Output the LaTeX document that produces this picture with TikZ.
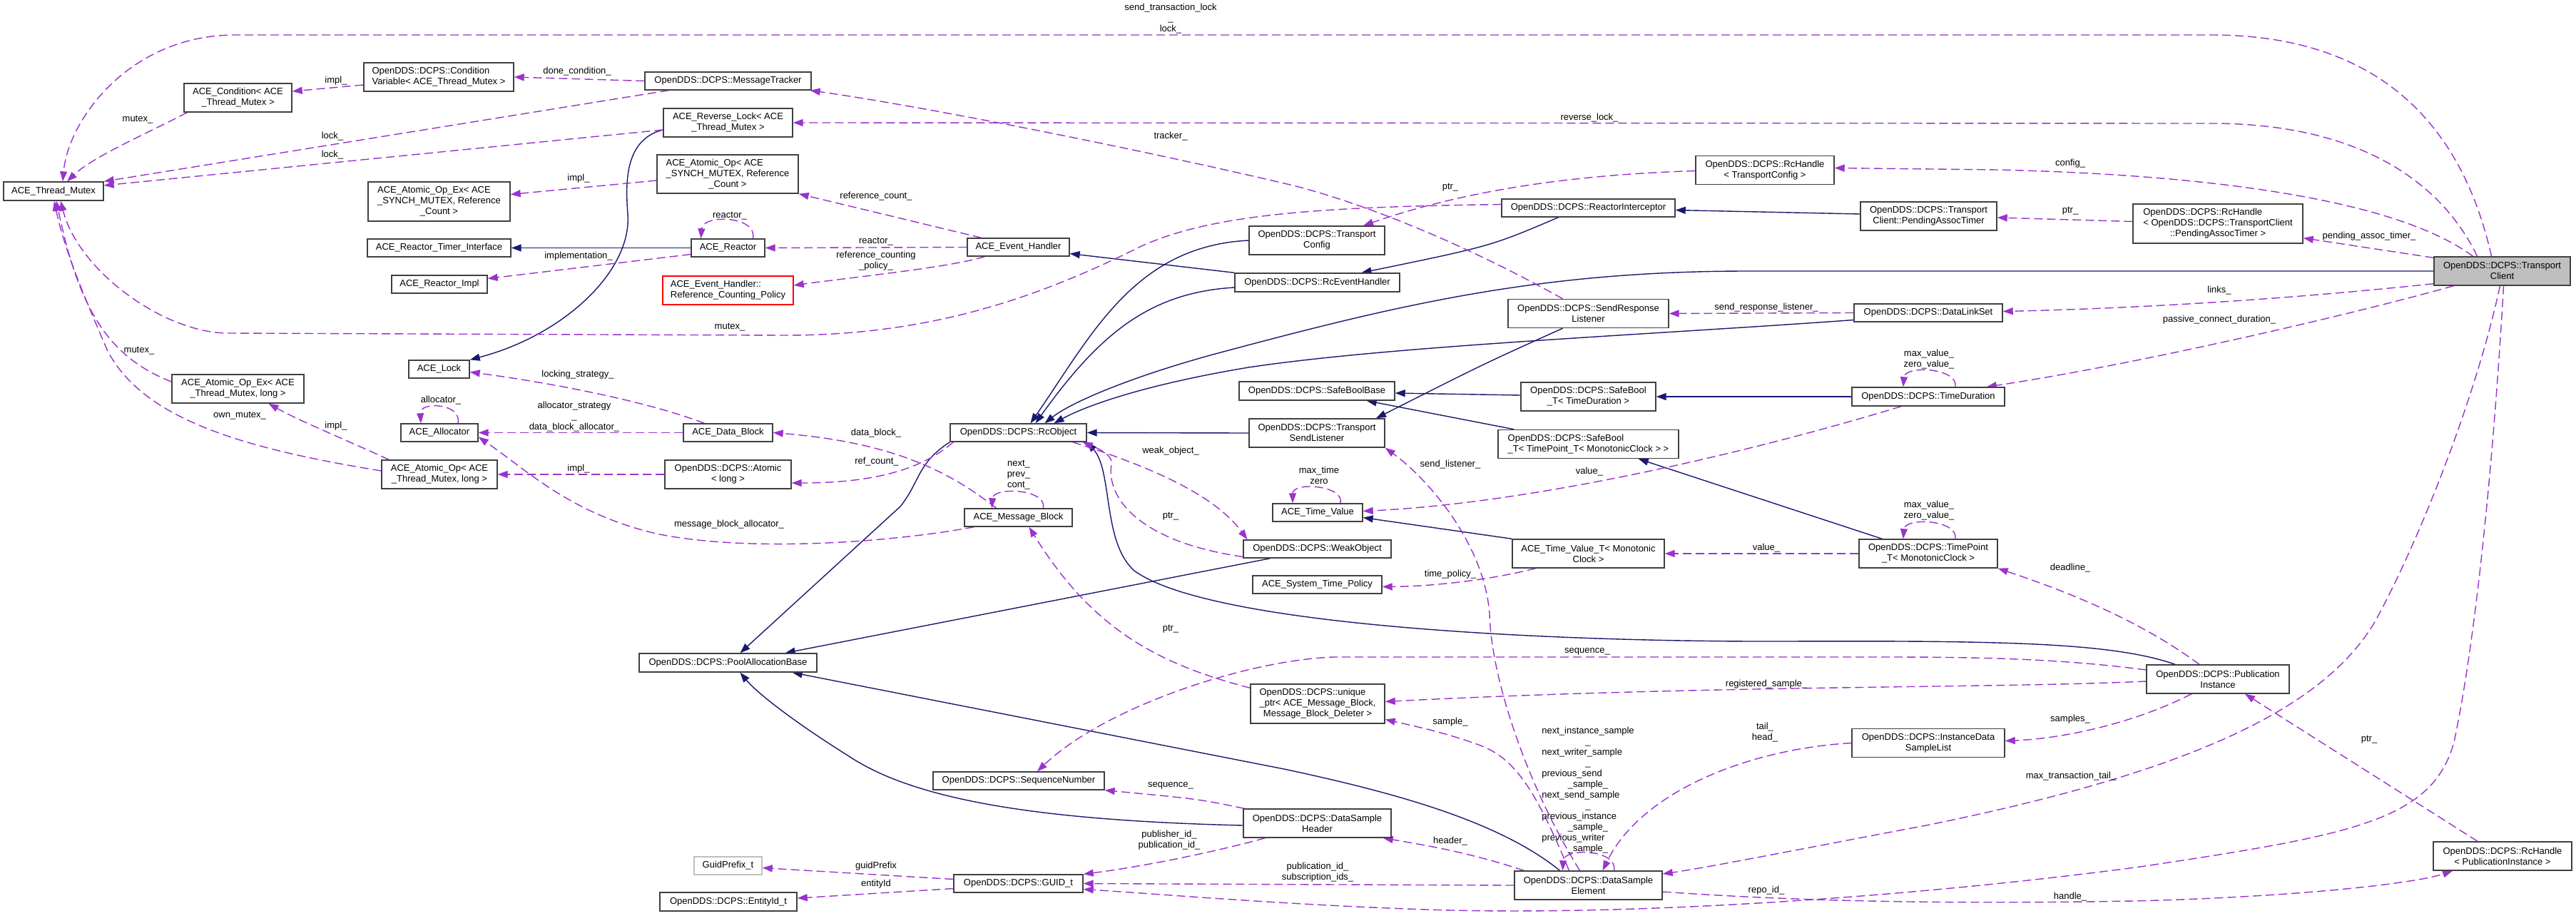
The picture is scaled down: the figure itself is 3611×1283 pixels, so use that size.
\documentclass[tikz,border=0pt]{standalone}
\usepackage{fontspec}
\setmainfont{Liberation Sans}
\usetikzlibrary{arrows.meta}
\definecolor{purp}{HTML}{9A32CD}
\definecolor{dnavy}{HTML}{191970}
\definecolor{tcgray}{HTML}{BFBFBF}
\newcommand\lbl{\fontsize{13}{15}\selectfont}
\newcommand\lft[1]{\multicolumn{1}{@{}l@{}}{#1}}
\pgfdeclarelayer{bg}
\pgfsetlayers{bg,main}
\tikzset{
 box/.style={draw=black!75, line width=1.4pt, fill=white, inner sep=0pt, font=\lbl, align=center},
 sz/.style 2 args={minimum width=#1pt, minimum height=#2pt},
 inh/.style={draw=dnavy, line width=1.4pt, -{Triangle[length=14pt,width=10pt]}},
 use/.style={draw=purp, line width=1.4pt, dash pattern=on 12pt off 6pt, -{Triangle[length=14pt,width=10pt]}},
 elab/.style={font=\lbl, inner sep=0pt, align=center}
}
\begin{document}
\begin{tikzpicture}[x=1pt,y=-1pt]
\useasboundingbox (0,0) rectangle (3611,1283);

% ---------------- nodes
\node[box,sz={140}{26}] (tm) at (75,268) {ACE\_Thread\_Mutex};
\node[box,sz={151}{40}] (cond) at (333.5,137) {ACE\_Condition< ACE\\\_Thread\_Mutex >};
\node[box,sz={210}{40},align=left] (cv) at (615,108) {OpenDDS::DCPS::Condition\\Variable< ACE\_Thread\_Mutex >};
\node[box,sz={233}{25}] (mt) at (1020.5,113.5) {OpenDDS::DCPS::MessageTracker};
\node[box,sz={181}{40}] (rl) at (1020.5,172) {ACE\_Reverse\_Lock< ACE\\\_Thread\_Mutex >};
\node[box,sz={198}{54}] (aoref) at (1020,244) {\begin{tabular}{@{}c@{}}\lft{ACE\_Atomic\_Op< ACE}\\\_SYNCH\_MUTEX, Reference\\\_Count >\end{tabular}};
\node[box,sz={199}{55}] (aoexref) at (615.5,282.5) {\begin{tabular}{@{}c@{}}\lft{ACE\_Atomic\_Op\_Ex< ACE}\\\_SYNCH\_MUTEX, Reference\\\_Count >\end{tabular}};
\node[box,sz={201}{25}] (rti) at (615.5,347.5) {ACE\_Reactor\_Timer\_Interface};
\node[box,sz={103}{25}] (reactor) at (1020.5,347.5) {ACE\_Reactor};
\node[box,sz={134}{25}] (rimpl) at (616,398.5) {ACE\_Reactor\_Impl};
\node[box,sz={143}{25}] (eh) at (1427.5,346.5) {ACE\_Event\_Handler};
\node[box,sz={183}{40},draw=red,align=left] (rcp) at (1020.5,407) {ACE\_Event\_Handler::\\Reference\_Counting\_Policy};
\node[box,sz={85}{25}] (tdm) at (615.5,517.5) {ACE\_Lock};
\node[box,sz={108}{25}] (alloc) at (616,606.5) {ACE\_Allocator};
\node[box,sz={185}{40}] (aoextm) at (333.5,545) {ACE\_Atomic\_Op\_Ex< ACE\\\_Thread\_Mutex, long >};
\node[box,sz={162}{40}] (aotm) at (616,665) {ACE\_Atomic\_Op< ACE\\\_Thread\_Mutex, long >};
\node[box,sz={125}{25}] (db) at (1020.5,606.5) {ACE\_Data\_Block};
\node[box,sz={177}{40}] (atom) at (1020.5,665) {OpenDDS::DCPS::Atomic\\< long >};
\node[box,sz={191}{25}] (rco) at (1427.5,606.5) {OpenDDS::DCPS::RcObject};
\node[box,sz={151}{25}] (mb) at (1427.5,725.5) {ACE\_Message\_Block};
\node[box,sz={190}{40}] (tcfg) at (1846,337) {OpenDDS::DCPS::Transport\\Config};
\node[box,sz={231}{26}] (rceh) at (1846.5,396) {OpenDDS::DCPS::RcEventHandler};
\node[box,sz={243}{25}] (ri) at (2226.5,291.5) {OpenDDS::DCPS::ReactorInterceptor};
\node[box,sz={194}{40}] (rhtc) at (2474,238.5) {OpenDDS::DCPS::RcHandle\\< TransportConfig >};
\node[box,sz={191}{40}] (pat) at (2703.5,303) {OpenDDS::DCPS::Transport\\Client::PendingAssocTimer};
\node[box,sz={238}{55}] (rhpat) at (3109,313.5) {\begin{tabular}{@{}c@{}}\lft{OpenDDS::DCPS::RcHandle}\\< OpenDDS::DCPS::TransportClient\\::PendingAssocTimer >\end{tabular}};
\node[box,sz={191}{40},fill=tcgray] (tc) at (3507.5,380) {OpenDDS::DCPS::Transport\\Client};
\node[box,sz={225}{40}] (srl) at (2226.5,439.5) {OpenDDS::DCPS::SendResponse\\Listener};
\node[box,sz={208}{25}] (dls) at (2703,438.5) {OpenDDS::DCPS::DataLinkSet};
\node[box,sz={218}{26}] (sbb) at (1846,548) {OpenDDS::DCPS::SafeBoolBase};
\node[box,sz={189}{40}] (sbtd) at (2226.5,556) {OpenDDS::DCPS::SafeBool\\\_T< TimeDuration >};
\node[box,sz={214}{26}] (td) at (2703,556) {OpenDDS::DCPS::TimeDuration};
\node[box,sz={190}{40}] (tsl) at (1846,607) {OpenDDS::DCPS::Transport\\SendListener};
\node[box,sz={253}{40},align=left] (sbtp) at (2226.5,622.5) {OpenDDS::DCPS::SafeBool\\\_T< TimePoint\_T< MonotonicClock > >};
\node[box,sz={126}{25}] (atv) at (1847,718.5) {ACE\_Time\_Value};
\node[box,sz={207}{25}] (wo) at (1846.5,769.5) {OpenDDS::DCPS::WeakObject};
\node[box,sz={213}{40}] (atvt) at (2226.5,776) {ACE\_Time\_Value\_T< Monotonic\\Clock >};
\node[box,sz={194}{40}] (tp) at (2703,776) {OpenDDS::DCPS::TimePoint\\\_T< MonotonicClock >};
\node[box,sz={181}{25}] (stp) at (1846.5,819.5) {ACE\_System\_Time\_Policy};
\node[box,sz={249}{26}] (pab) at (1020.5,929) {OpenDDS::DCPS::PoolAllocationBase};
\node[box,sz={188}{55}] (uptr) at (1847,986.5) {\begin{tabular}{@{}c@{}}\lft{OpenDDS::DCPS::unique}\\\_ptr< ACE\_Message\_Block,\\Message\_Block\_Deleter >\end{tabular}};
\node[box,sz={200}{40}] (pi) at (3109,952) {OpenDDS::DCPS::Publication\\Instance};
\node[box,sz={214}{40}] (idsl) at (2703,1041.5) {OpenDDS::DCPS::InstanceData\\SampleList};
\node[box,sz={240}{25}] (sn) at (1428,1094.5) {OpenDDS::DCPS::SequenceNumber};
\node[box,sz={207}{40}] (dsh) at (1846.5,1154) {OpenDDS::DCPS::DataSample\\Header};
\node[box,sz={207}{40}] (dse) at (2226.5,1241) {OpenDDS::DCPS::DataSample\\Element};
\node[box,sz={95}{25},draw=black!25] (gp) at (1020.5,1213.5) {GuidPrefix\_t};
\node[box,sz={181}{25}] (guid) at (1427.5,1238.5) {OpenDDS::DCPS::GUID\_t};
\node[box,sz={192}{26}] (eid) at (1021,1264) {OpenDDS::DCPS::EntityId\_t};
\node[box,sz={194}{40}] (rhpi) at (3508,1200) {OpenDDS::DCPS::RcHandle\\< PublicationInstance >};

\begin{pgfonlayer}{bg}
\fill[white] (0,0) rectangle (3611,1283);
% ---------------- inheritance
\draw[inh] ([yshift=-10pt]rl.west) .. controls (878,195) and (876,250) .. (880,300) .. controls (886,380) and (790,470) .. (tdm.north east);
\draw[inh] (reactor.west) -- (rti.east);
\draw[inh] (rceh.north west) -- ([yshift=-9pt]eh.east);
\draw[inh] (tcfg.west) .. controls (1590,345) and (1530,470) .. ([xshift=17pt]rco.north);
\draw[inh] ([yshift=-7pt]rceh.west) .. controls (1610,410) and (1540,470) .. ([xshift=24pt]rco.north);
\draw[inh] ([xshift=-42pt]ri.south) .. controls (2090,345) .. ([xshift=62pt]rceh.north);
\draw[inh] ([yshift=3pt]pat.west) -- ([yshift=-3pt]ri.east);
\draw[inh] (tc.west) -- (2450,380) .. controls (2150,380) and (1950,430) .. (1700,497) .. controls (1580,530) and (1500,565) .. ([xshift=37pt]rco.north);
\draw[inh] ([yshift=-10pt]dls.west) .. controls (2300,470) and (1950,485) .. (1750,515) .. controls (1600,540) and (1520,570) .. ([xshift=50pt]rco.north);
\draw[inh] (tsl.west) -- (rco.east);
\draw[inh] ([xshift=-36pt]srl.south) .. controls (2080,510) .. ([xshift=83pt]tsl.north);
\draw[inh] ([yshift=2pt]sbtd.west) -- ([yshift=-3pt]sbb.east);
\draw[inh] ([xshift=23pt]sbtp.north west) -- ([xshift=-40pt]sbb.south east);
\draw[inh] (td.west) -- (sbtd.east);
\draw[inh] ([xshift=33pt]tp.north west) -- ([xshift=-57pt]sbtp.south east);
\draw[inh] (atvt.north west) -- ([yshift=-7pt]atv.east);
\draw[inh] ([xshift=-66pt]wo.south) -- ([xshift=-45pt]pab.north east);
\draw[inh] (rco.south west) .. controls (1285,650) and (1290,675) .. (1262,710) -- ([xshift=17pt]pab.north);
\draw[inh] ([xshift=-60pt]pi.north) .. controls (2960,900) and (2800,898) .. (2500,899) .. controls (2200,900) and (1700,880) .. (1590,800) .. controls (1545,760) and (1560,660) .. (rco.south east);
\draw[inh] ([yshift=-3pt]dsh.west) .. controls (1450,1150) and (1280,1120) .. (1190,1060) .. controls (1110,1010) and (1060,970) .. ([xshift=17pt]pab.south);
\draw[inh] ([xshift=-40pt]dse.north) .. controls (2100,1150) and (1950,1110) .. (1800,1078) -- ([xshift=-35pt]pab.south east);

% ---------------- usage
\draw[use] ([xshift=-15pt]tc.north) .. controls (3450,170) and (3330,49) .. (3100,49) -- (330,49) .. controls (180,49) and (95,170) .. ([xshift=13pt]tm.north);
\draw[use] ([xshift=5pt]cond.south west) .. controls (200,190) and (130,220) .. ([xshift=19pt]tm.north);
\draw[use] ([yshift=-11pt]cv.west) -- ([yshift=9pt]cond.east);
\draw[use] (mt.west) -- (cv.east);
\draw[use] ([xshift=34pt]mt.south west) -- (tm.north east);
\draw[use] ([yshift=-10pt]rl.west) -- ([yshift=8pt]tm.east);
\draw[use] ([yshift=-9pt]aoref.west) -- ([yshift=10pt]aoexref.east);
\draw[use] ([yshift=-9pt]reactor.west) -- ([yshift=8pt]rimpl.east);
\draw[use] ([xshift=-52pt]eh.north) -- (aoref.south east);
\draw[use] (eh.west) -- (reactor.east);
\draw[use] ([xshift=35pt]reactor.north) .. controls (1062,302) and (985,300) .. ([xshift=-38pt]reactor.north);
\draw[use] ([xshift=-47pt]eh.south) .. controls (1330,375) and (1200,388) .. ([yshift=7pt]rcp.east);
\draw[use] ([xshift=-36pt]srl.north) .. controls (2050,340) and (1900,280) .. (1800,257) .. controls (1600,210) and (1300,150) .. ([xshift=-2pt]mt.south east);
\draw[use] ([xshift=-35pt]tc.north) .. controls (3420,250) and (3300,173) .. (3100,173) -- (rl.east);
\draw[use] ([xshift=-41pt]tc.north) .. controls (3360,280) and (3100,245) .. (2800,238) -- ([yshift=3pt]rhtc.east);
\draw[use] ([yshift=-1pt]rhtc.west) .. controls (2200,245) and (2050,268) .. ([xshift=65pt]tcfg.north);
\draw[use] ([yshift=5pt]ri.west) .. controls (1850,290) and (1700,300) .. (1600,345) .. controls (1450,420) and (1300,470) .. (1100,470) -- (320,467) .. controls (230,467) and (110,380) .. ([xshift=10pt]tm.south);
\draw[use] ([yshift=3pt]rhpat.west) -- ([yshift=-2pt]pat.east);
\draw[use] ([yshift=-2pt]tc.north west) -- ([yshift=8pt]rhpat.south east);
\draw[use] ([yshift=3pt]tc.south west) .. controls (3200,420) and (3000,432) .. ([yshift=2pt]dls.east);
\draw[use] (dls.west) -- (srl.east);
\draw[use] ([xshift=28pt]tc.south west) .. controls (3300,440) and (3000,510) .. ([xshift=-26pt]td.north east);
\draw[use] ([xshift=38pt]td.north) .. controls (2745,515) and (2670,512) .. ([xshift=-35pt]td.north);
\draw[use] ([xshift=-38pt]td.south) .. controls (2450,635) and (2150,705) .. ([yshift=2pt]atv.east);
\draw[use] ([xshift=32pt]atv.north) .. controls (1885,680) and (1812,675) .. ([xshift=-35pt]atv.north);
\draw[use] ([xshift=-74pt]atvt.south) .. controls (2080,815) and (2000,822) .. ([yshift=-3pt]stp.east);
\draw[use] (tp.west) -- (atvt.east);
\draw[use] ([xshift=38pt]tp.north) .. controls (2745,728) and (2670,725) .. ([xshift=-35pt]tp.north);
\draw[use] ([xshift=-26pt]pi.north) .. controls (3000,870) and (2900,830) .. (tp.south east);
\draw[use] ([xshift=-12pt]dse.north) .. controls (2140,1100) and (2090,950) .. (2088,860) .. controls (2080,760) and (2000,670) .. (tsl.south east);
\draw[use] ([xshift=30pt]db.north west) .. controls (900,560) and (760,535) .. ([yshift=-4pt]tdm.east);
\draw[use] (db.west) -- (alloc.east);
\draw[use] ([xshift=26pt]alloc.north) .. controls (648,565) and (588,562) .. ([xshift=-26pt]alloc.north);
\draw[use] ([xshift=14pt]mb.south west) .. controls (1250,760) and (1050,775) .. (920,748) .. controls (800,720) and (740,660) .. ([yshift=-6pt]alloc.east);
\draw[use] (atom.west) -- (aotm.east);
\draw[use] ([xshift=11pt]aotm.north west) .. controls (470,610) and (420,590) .. ([xshift=43pt]aoextm.south);
\draw[use] ([yshift=10pt]aoextm.west) .. controls (150,500) and (110,430) .. ([xshift=4pt]tm.south);
\draw[use] ([yshift=5pt]aotm.west) .. controls (350,630) and (200,590) .. (150,490) .. controls (120,420) and (90,350) .. ([xshift=1pt]tm.south);
\draw[use] ([xshift=-31pt]mb.north) .. controls (1330,660) and (1250,620) .. (db.east);
\draw[use] ([xshift=5pt]rco.south west) .. controls (1290,660) and (1220,677) .. ([yshift=-12pt]atom.east);
\draw[use] ([xshift=35pt]mb.north) .. controls (1468,685) and (1392,682) .. ([xshift=-37pt]mb.north);
\draw[use] ([xshift=76pt]rco.south) .. controls (1600,650) and (1700,690) .. ([xshift=-98pt]wo.north);
\draw[use] ([yshift=-11pt]wo.west) .. controls (1600,760) and (1550,700) .. (1558,650) .. controls (1560,635) and (1530,625) .. ([xshift=-6pt]rco.south east);
\draw[use] ([yshift=-6pt]uptr.north west) .. controls (1620,930) and (1530,880) .. ([xshift=15pt]mb.south);
\draw[use] ([yshift=13pt]pi.west) .. controls (2900,925) and (2800,921) .. (2650,921) -- (1870,921) .. controls (1750,925) and (1550,990) .. ([xshift=26pt]sn.north);
\draw[use] ([yshift=-3pt]pi.west) .. controls (2800,965) and (2400,960) .. ([yshift=3pt]uptr.east);
\draw[use] ([xshift=-27pt]dse.north) .. controls (2150,1100) and (2120,1060) .. (2070,1043) .. controls (2020,1025) and (1970,1015) .. ([yshift=-22pt]uptr.east);
\draw[use] ([xshift=-37pt]pi.south) .. controls (3000,1010) and (2900,1035) .. ([yshift=3pt]idsl.east);
\draw[use] (idsl.west) .. controls (2450,1050) and (2300,1110) .. ([xshift=20pt]dse.north);
\draw[use] ([xshift=36pt]dse.north) .. controls (2268,1190) and (2192,1188) .. ([xshift=-36pt]dse.north);
\draw[use] ([xshift=-3pt]tc.south) .. controls (3470,560) and (3390,760) .. (3330,870) .. controls (3260,990) and (3080,1080) .. (2700,1157) .. controls (2550,1185) and (2400,1215) .. ([yshift=16pt]dse.east);
\draw[use] ([xshift=2pt]tc.south) .. controls (3495,650) and (3470,900) .. (3440,1040) .. controls (3410,1150) and (3300,1170) .. (3000,1215) .. controls (2700,1255) and (2300,1285) .. (2000,1275) .. controls (1800,1268) and (1650,1255) .. ([yshift=-8pt]guid.east);
\draw[use] ([yshift=-9pt]dse.east) .. controls (2500,1262) and (2700,1268) .. (2990,1263) .. controls (3200,1258) and (3380,1240) .. ([xshift=-70pt]rhpi.south);
\draw[use] ([xshift=-73pt]dsh.south) .. controls (1700,1195) and (1600,1215) .. (guid.north east);
\draw[use] (dse.west) -- (guid.east);
\draw[use] ([xshift=2pt]dsh.north west) .. controls (1680,1120) .. (sn.south east);
\draw[use] ([xshift=14pt]dse.north west) .. controls (2060,1195) and (2000,1185) .. ([xshift=-12pt]dsh.south east);
\draw[use] ([yshift=6pt]guid.west) -- ([yshift=-3pt]gp.east);
\draw[use] ([yshift=-7pt]guid.west) -- ([yshift=5pt]eid.east);
\draw[use] ([xshift=-35pt]rhpi.north) -- ([xshift=38pt]pi.south);
\end{pgfonlayer}

% ---------------- edge labels
\node[elab] (l1) at (1641,26) {send\_transaction\_lock\\\_\\lock\_};
\node[elab] (l2) at (193,168) {mutex\_};
\node[elab] (l3) at (471,113) {impl\_};
\node[elab] (l4) at (809,100) {done\_condition\_};
\node[elab] (l5) at (466,191) {lock\_};
\node[elab] (l6) at (466,217) {lock\_};
\node[elab] (l7) at (811,250) {impl\_};
\node[elab] (l8) at (811,359) {implementation\_};
\node[elab] (l9) at (1228,275) {reference\_count\_};
\node[elab] (l10) at (1228,339) {reactor\_};
\node[elab] (l11) at (1023,303) {reactor\_};
\node[elab] (l12) at (1228,366) {reference\_counting\\\_policy\_};
\node[elab] (l13) at (1641,191) {tracker\_};
\node[elab] (l14) at (2228,165) {reverse\_lock\_};
\node[elab] (l15) at (2902,229) {config\_};
\node[elab] (l16) at (2033,263) {ptr\_};
\node[elab] (l17) at (1023,459) {mutex\_};
\node[elab] (l18) at (2902,296) {ptr\_};
\node[elab] (l19) at (3321,331) {pending\_assoc\_timer\_};
\node[elab] (l20) at (3111,407) {links\_};
\node[elab] (l21) at (2476,431) {send\_response\_listener\_};
\node[elab] (l22) at (3111,448) {passive\_connect\_duration\_};
\node[elab] (l23) at (2704,503.5) {max\_value\_\\zero\_value\_};
\node[elab] (l24) at (2228,661) {value\_};
\node[elab] (l25) at (1849,666) {max\_time\\zero};
\node[elab] (l26) at (2033,805) {time\_policy\_};
\node[elab] (l27) at (2476,768) {value\_};
\node[elab] (l28) at (2704,715.5) {max\_value\_\\zero\_value\_};
\node[elab] (l29) at (2902,796) {deadline\_};
\node[elab] (l30) at (2033,651) {send\_listener\_};
\node[elab] (l31) at (810,525) {locking\_strategy\_};
\node[elab] (l32) at (805,584) {allocator\_strategy\\\_\\data\_block\_allocator\_};
\node[elab] (l33) at (618,561) {allocator\_};
\node[elab] (l34) at (1022,735) {message\_block\_allocator\_};
\node[elab] (l35) at (811,657) {impl\_};
\node[elab] (l36) at (471,597) {impl\_};
\node[elab] (l37) at (195,492) {mutex\_};
\node[elab] (l38) at (336,583) {own\_mutex\_};
\node[elab] (l39) at (1228,607) {data\_block\_};
\node[elab] (l40) at (1229,647) {ref\_count\_};
\node[elab] (l41) at (1428,665.5) {next\_\\prev\_\\cont\_};
\node[elab] (l42) at (1641,632) {weak\_object\_};
\node[elab] (l43) at (1641,724) {ptr\_};
\node[elab] (l44) at (1641,882) {ptr\_};
\node[elab] (l45) at (2225,913) {sequence\_};
\node[elab] (l46) at (2476,959) {registered\_sample\_};
\node[elab] (l47) at (2033,1012) {sample\_};
\node[elab] (l48) at (2902,1008) {samples\_};
\node[elab] (l49) at (2474,1026.5) {tail\_\\head\_};
\node[elab] (l50) at (2226,1108) {\begin{tabular}{@{}c@{}}\lft{next\_instance\_sample}\\\_\\\lft{next\_writer\_sample}\\\_\\\lft{previous\_send}\\\_sample\_\\\lft{next\_send\_sample}\\\_\\\lft{previous\_instance}\\\_sample\_\\\lft{previous\_writer}\\\_sample\_\end{tabular}};
\node[elab] (l51) at (2903,1088) {max\_transaction\_tail\_};
\node[elab] (l52) at (2476,1248) {repo\_id\_};
\node[elab] (l53) at (2902,1257) {handle\_};
\node[elab] (l54) at (1639,1177.5) {publisher\_id\_\\publication\_id\_};
\node[elab] (l55) at (1847,1223) {publication\_id\_\\subscription\_ids\_};
\node[elab] (l56) at (1641,1101) {sequence\_};
\node[elab] (l57) at (2033,1179) {header\_};
\node[elab] (l58) at (1228,1214) {guidPrefix};
\node[elab] (l59) at (1228,1239) {entityId};
\node[elab] (l60) at (3321,1037) {ptr\_};
\end{tikzpicture}
\end{document}
